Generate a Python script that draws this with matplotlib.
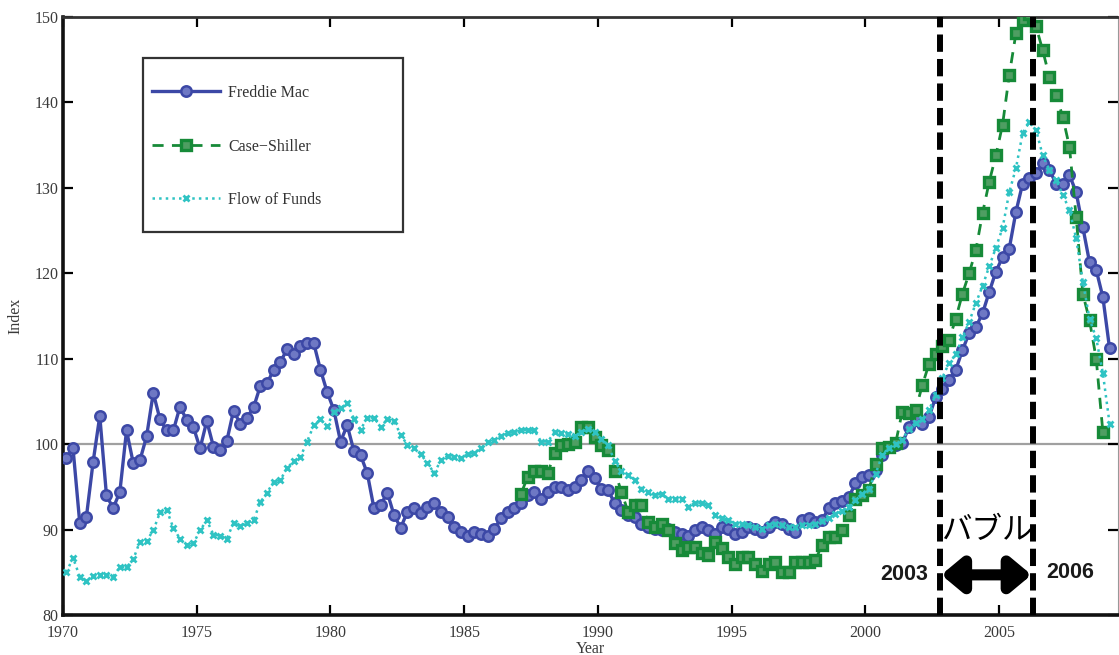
import matplotlib
matplotlib.use("Agg")
import matplotlib.pyplot as plt
from matplotlib.patches import Rectangle
import numpy as np

# Quarterly house price indices (base = 100), 1970Q1 .. 2009Q1
freddie_mac = [
    98.4, 99.5, 90.8, 91.5, 97.9, 103.3, 94.0, 92.5, 94.4, 101.6,
    97.8, 98.1, 100.9, 106.0, 102.9, 101.6, 101.6, 104.4, 102.8, 102.0,
    99.5, 102.7, 99.7, 99.3, 100.4, 103.9, 102.4, 103.1, 104.3, 106.8,
    107.1, 108.7, 109.6, 111.1, 110.6, 111.5, 111.8, 111.8, 108.7, 106.1,
    104.0, 100.3, 102.2, 99.2, 98.7, 96.6, 92.5, 92.9, 94.3, 91.7,
    90.2, 92.1, 92.5, 91.9, 92.7, 93.1, 92.1, 91.5, 90.3, 89.7,
    89.3, 89.7, 89.5, 89.3, 90.1, 91.3, 92.1, 92.5, 93.1, 94.0,
    94.4, 93.6, 94.4, 95.0, 95.0, 94.6, 95.0, 95.8, 96.8, 96.0,
    94.8, 94.6, 93.1, 92.3, 91.7, 91.5, 90.7, 90.3, 90.1, 89.9,
    90.1, 89.7, 89.5, 89.3, 89.9, 90.3, 89.9, 89.5, 90.3, 90.1,
    89.5, 89.7, 90.3, 90.1, 89.7, 90.3, 90.9, 90.7, 90.1, 89.7,
    91.1, 91.3, 90.9, 91.1, 92.5, 93.1, 93.3, 93.8, 95.4, 96.2,
    96.4, 97.0, 98.7, 99.7, 99.9, 100.1, 102.0, 102.8, 102.4, 103.2,
    105.5, 106.5, 107.5, 108.7, 111.0, 113.0, 113.7, 115.3, 117.8, 120.2,
    121.9, 122.9, 127.2, 130.5, 131.1, 131.7, 132.9, 132.1, 130.5, 130.5,
    131.5, 129.5, 125.4, 121.3, 120.4, 117.2, 111.2,
]

flow_of_funds = [
    85.0, 86.7, 84.5, 84.0, 84.6, 84.7, 84.7, 84.5, 85.6, 85.6,
    86.5, 88.6, 88.7, 89.9, 92.0, 92.3, 90.2, 88.9, 88.2, 88.4,
    89.9, 91.1, 89.4, 89.3, 88.9, 90.8, 90.4, 90.8, 91.1, 93.2,
    94.3, 95.6, 95.8, 97.2, 98.0, 98.5, 100.3, 102.2, 102.9, 102.1,
    103.8, 104.2, 104.8, 103.0, 101.7, 103.1, 103.1, 102.0, 102.9, 102.7,
    101.1, 99.9, 99.6, 98.8, 97.8, 96.6, 98.1, 98.6, 98.5, 98.4,
    98.8, 99.0, 99.5, 100.3, 100.5, 100.9, 101.3, 101.4, 101.6, 101.7,
    101.6, 100.3, 100.3, 101.4, 101.3, 101.2, 100.9, 101.4, 101.8, 101.4,
    100.6, 99.9, 98.0, 96.8, 96.4, 95.8, 94.8, 94.4, 94.0, 94.2,
    93.6, 93.6, 93.6, 92.7, 93.1, 93.1, 92.9, 91.7, 91.3, 91.1,
    90.7, 90.7, 90.5, 90.3, 90.1, 90.5, 90.7, 90.5, 90.3, 90.3,
    90.5, 90.5, 90.7, 91.0, 91.4, 91.8, 92.2, 92.7, 93.5, 94.2,
    94.8, 96.5, 98.7, 99.6, 100.0, 100.5, 101.8, 102.5, 102.9, 104.0,
    105.8, 107.8, 109.5, 110.5, 112.5, 114.3, 116.5, 118.5, 120.8, 123.0,
    125.3, 129.5, 132.3, 136.4, 137.7, 136.8, 133.8, 132.1, 130.9, 129.2,
    127.4, 124.1, 119.0, 114.7, 112.4, 108.3, 102.4,
]

# Case-Shiller starts in 1987Q1 (quarter index 68)
case_shiller_start = 68
case_shiller = [
    94.2, 96.2, 96.9, 96.9, 96.6, 99.0, 99.9, 100.0, 100.3, 102.0,
    102.0, 100.8, 99.9, 99.3, 96.9, 94.4, 92.1, 92.9, 92.9, 90.9,
    90.3, 90.7, 89.9, 88.4, 87.6, 88.0, 88.0, 87.2, 87.0, 88.6,
    87.8, 86.8, 86.0, 86.8, 86.8, 86.0, 85.2, 86.0, 86.2, 85.0,
    85.0, 86.2, 86.2, 86.2, 86.4, 88.2, 89.1, 89.1, 89.9, 91.7,
    93.6, 94.0, 94.6, 97.7, 99.5, 99.7, 100.1, 103.8, 103.6, 104.0,
    106.9, 109.4, 110.6, 111.5, 112.2, 114.7, 117.6, 120.0, 122.7, 127.0,
    130.7, 133.8, 137.4, 143.2, 148.1, 149.7, 150.4, 148.9, 146.1, 143.0,
    140.9, 138.3, 134.8, 126.6, 117.6, 114.5, 110.0, 101.4,
]

series_labels = ["Freddie Mac", "Case\u2212Shiller", "Flow of Funds"]
x_ticks = [1970, 1975, 1980, 1985, 1990, 1995, 2000, 2005]
y_ticks = [80, 90, 100, 110, 120, 130, 140, 150]

bubble_start = 2002.78
bubble_end = 2006.26
bubble_text = "バブル"
bubble_start_label = "2003"
bubble_end_label = "2006"

# quarterly dates, centred in each quarter
quarters = 1970.125 + 0.25 * np.arange(len(freddie_mac))
cs_quarters = quarters[case_shiller_start:case_shiller_start + len(case_shiller)]

plt.rcParams["font.family"] = ["Liberation Serif", "DejaVu Serif"]

fig = plt.figure(figsize=(11.19, 6.55), dpi=100)
ax = fig.add_axes([63 / 1119, 40 / 655, 1055 / 1119, 598 / 655])

blue = "#3c48a6"
green = "#168a38"
cyan = "#2fc3c3"

ax.axhline(100, color="#a0a0a0", lw=1.6, zorder=1)

ax.plot(quarters, freddie_mac, "-", color=blue, lw=2.4, marker="o", ms=7.5,
        mfc="#6e78c4", mec=blue, mew=1.8, label=series_labels[0], zorder=3)
ax.plot(cs_quarters, case_shiller, "--", color=green, lw=2.0, marker="s", ms=7.2,
        mfc="#4f9e62", mec=green, mew=2.4, label=series_labels[1], zorder=4,
        dashes=(4, 3))
ax.plot(quarters, flow_of_funds, ":", color=cyan, lw=1.8, marker="x", ms=5,
        mec=cyan, mew=2.0, label=series_labels[2], zorder=5)

ax.set_xlim(1970, 2009.44)
ax.set_ylim(80, 150)
ax.set_xticks(x_ticks)
ax.set_yticks(y_ticks)
ax.tick_params(direction="in", length=7, width=1.6, top=True, right=True,
               labelsize=11.5, labelcolor="#3a3a3a")
ax.tick_params(axis="x", pad=7)
ax.tick_params(axis="y", pad=3)

for side in ("left", "bottom"):
    ax.spines[side].set_linewidth(2.6)
    ax.spines[side].set_color("#111111")
ax.spines["top"].set_linewidth(2.0)
ax.spines["top"].set_color("#333333")
ax.spines["right"].set_linewidth(0.8)
ax.spines["right"].set_color("#999999")

ax.set_xlabel("Year", fontsize=11.5, color="#3a3a3a", labelpad=0)
ax.set_ylabel("Index", fontsize=11.5, color="#3a3a3a", labelpad=8)

# bubble period markers
for yr in (bubble_start, bubble_end):
    ax.axvline(yr, color="black", lw=4.3, dashes=(2.9, 1.2),
               solid_capstyle="butt", dash_capstyle="butt", zorder=6)

arrow_y = 84.7
ax.annotate("", xy=(bubble_end, arrow_y), xytext=(bubble_start, arrow_y),
            arrowprops=dict(arrowstyle="<|-|>,head_length=0.6,head_width=0.5",
                            lw=8, color="black", shrinkA=1, shrinkB=1,
                            mutation_scale=20),
            zorder=7)
ax.text((bubble_start + bubble_end) / 2, 89.9, bubble_text,
        fontsize=22, family=["Noto Sans CJK JP"], ha="center", va="center",
        color="black", zorder=7)
ax.text(bubble_start - 0.45, arrow_y, bubble_start_label, fontsize=15.5,
        family=["Liberation Sans"], fontweight="bold", ha="right", va="center",
        color="#1a1a1a", zorder=7)
ax.text(bubble_end + 0.5, arrow_y + 0.3, bubble_end_label, fontsize=15.5,
        family=["Liberation Sans"], fontweight="bold", ha="left", va="center",
        color="#1a1a1a", zorder=7)

# legend with a fixed MATLAB-style frame
frame = Rectangle((0.0758, 0.6405), 0.2465, 0.2909, transform=ax.transAxes,
                  fill=True, facecolor="white", edgecolor="#333333", lw=1.6,
                  zorder=8)
ax.add_patch(frame)
leg = ax.legend(loc="upper left", bbox_to_anchor=(0.078, 0.897), frameon=False,
                fontsize=11.5, handlelength=4.3, handletextpad=0.5,
                labelspacing=2.35, numpoints=1, borderaxespad=0)
leg.set_zorder(9)
for t in leg.get_texts():
    t.set_color("#333333")

fig.savefig("out.png", dpi=100)
